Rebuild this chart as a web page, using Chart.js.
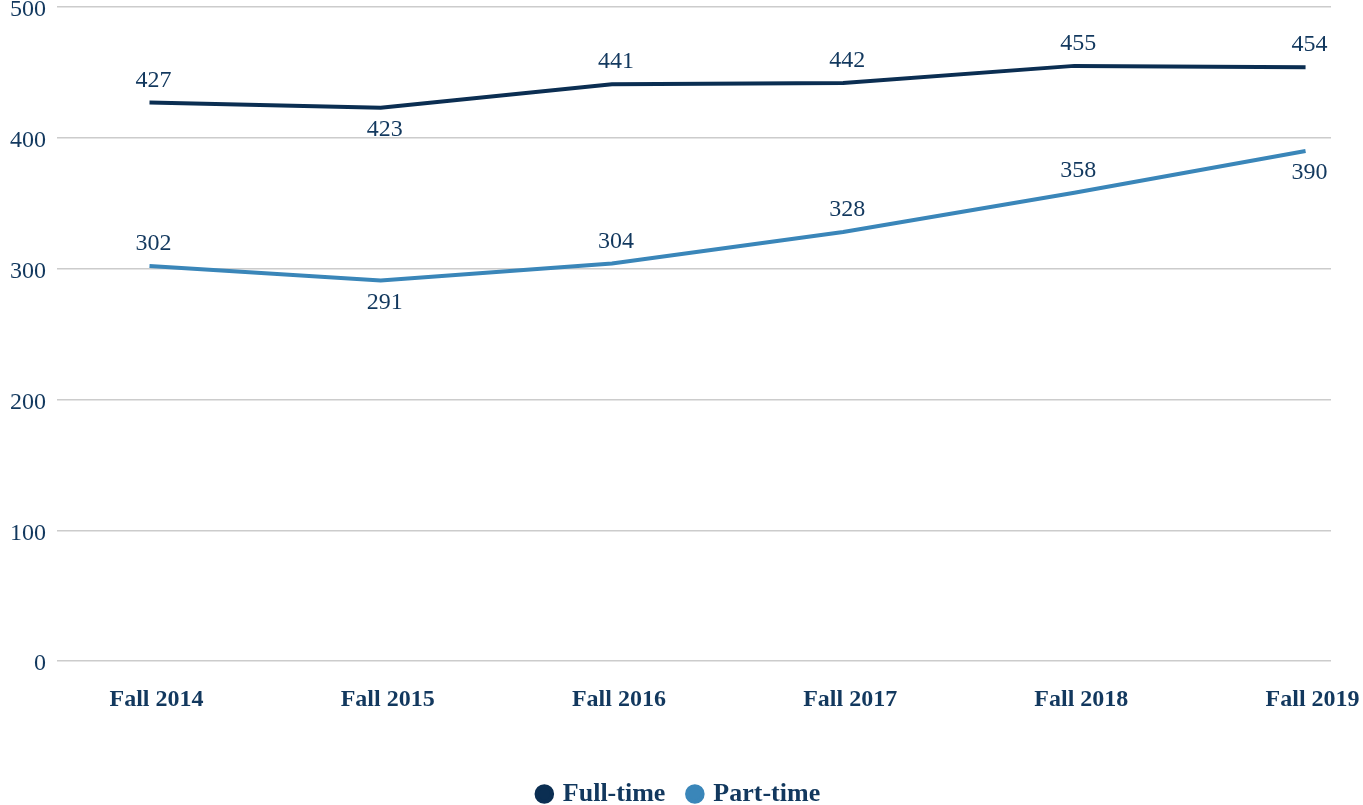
<!DOCTYPE html>
<html>
<head>
<meta charset="utf-8">
<script src="https://cdn.jsdelivr.net/npm/chart.js@4.4.1/dist/chart.umd.min.js"></script>
<style>
  html, body { margin: 0; padding: 0; background: #fff; }
  #wrap { width: 1363px; height: 805px; position: relative; }
</style>
</head>
<body>
<div id="wrap"><canvas id="enrollChart"></canvas></div>
<script>
// enrollment by term
const terms = ['Fall 2014', 'Fall 2015', 'Fall 2016', 'Fall 2017', 'Fall 2018', 'Fall 2019'];
const fullTime = [427, 423, 441, 442, 455, 454];
const partTime = [302, 291, 304, 328, 358, 390];
const yTicks = [0, 100, 200, 300, 400, 500];

const NAVY = '#0b2e52';
const BLUE = '#3a86b9';
const TEXT = '#12385e';
const SERIF = '"Liberation Serif", "Times New Roman", serif';

const toPoints = arr => arr.map((v, i) => ({ x: i, y: v }));

// value labels next to each point, above unless flagged below
const valueLabels = {
  id: 'valueLabels',
  afterDatasetsDraw(chart) {
    const ctx = chart.ctx;
    ctx.save();
    ctx.font = '24px ' + SERIF;
    ctx.fillStyle = TEXT;
    ctx.textAlign = 'center';
    chart.data.datasets.forEach((ds, di) => {
      const meta = chart.getDatasetMeta(di);
      meta.data.forEach((pt, i) => {
        const below = ds.labelBelow[i];
        ctx.textBaseline = below ? 'top' : 'bottom';
        const y = below ? pt.y + 10 : pt.y - 10;
        ctx.fillText(String(ds.data[i].y), pt.x + 4, y);
      });
    });
    ctx.restore();
  }
};

// nudge the legend a little right so it sits under the plot's middle
const legendNudge = {
  id: 'legendNudge',
  afterLayout(chart) {
    chart.legend.left += 10;
    chart.legend.right += 10;
  }
};

new Chart(document.getElementById('enrollChart'), {
  type: 'line',
  data: {
    datasets: [
      {
        label: 'Full-time',
        data: toPoints(fullTime),
        borderColor: NAVY,
        backgroundColor: NAVY,
        borderWidth: 4,
        pointRadius: 0,
        tension: 0,
        labelBelow: [false, true, false, false, false, false]
      },
      {
        label: 'Part-time',
        data: toPoints(partTime),
        borderColor: BLUE,
        backgroundColor: BLUE,
        borderWidth: 4,
        pointRadius: 0,
        tension: 0,
        labelBelow: [false, true, false, false, false, true]
      }
    ]
  },
  options: {
    responsive: true,
    maintainAspectRatio: false,
    animation: false,
    layout: { padding: { top: 7, right: 32, left: 8, bottom: -12 } },
    plugins: {
      tooltip: { enabled: false },
      legend: {
        position: 'bottom',
        labels: {
          usePointStyle: true,
          pointStyle: 'circle',
          boxWidth: 11,
          boxHeight: 11,
          padding: 24,
          color: TEXT,
          font: { family: SERIF, size: 26, weight: 'bold' }
        }
      }
    },
    scales: {
      x: {
        type: 'linear',
        min: -0.4,
        max: 5.11,
        grid: { display: false, drawTicks: false },
        border: { display: false },
        afterBuildTicks: scale => { scale.ticks = terms.map((_, i) => ({ value: i })); },
        afterFit: scale => {
          scale.paddingLeft = 0;
          scale.paddingRight = 0;
          scale.height += 19;
        },
        ticks: {
          color: TEXT,
          padding: 24,
          labelOffset: 7,
          maxRotation: 0,
          autoSkip: false,
          font: { family: SERIF, size: 24, weight: 'bold' },
          callback: v => terms[v]
        }
      },
      y: {
        min: 0,
        max: 500,
        afterBuildTicks: scale => { scale.ticks = yTicks.map(v => ({ value: v })); },
        afterFit: scale => {
          scale.paddingTop = 0;
          scale.paddingBottom = 0;
          scale.width -= 9;
        },
        grid: { color: '#cccccc', lineWidth: 1.5, drawTicks: false },
        border: { display: false },
        ticks: {
          color: TEXT,
          padding: 11,
          labelOffset: 3,
          font: { family: SERIF, size: 24 }
        }
      }
    }
  },
  plugins: [valueLabels, legendNudge]
});
</script>
</body>
</html>
